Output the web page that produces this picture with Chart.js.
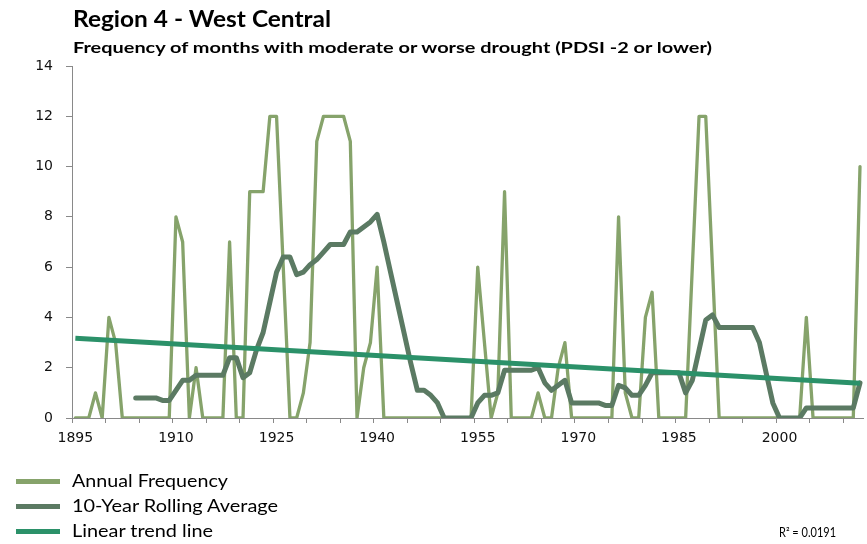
<!DOCTYPE html>
<html>
<head>
<meta charset="utf-8">
<script src="https://cdn.jsdelivr.net/npm/chart.js@4.4.1/dist/chart.umd.min.js"></script>
<style>
  html, body { margin: 0; padding: 0; background: #fff; }
  #wrap { position: relative; width: 867px; height: 544px; overflow: hidden; }
  #c { position: absolute; left: 0; top: 0; }
  .t { position: absolute; white-space: nowrap; font-family: Lato, "Open Sans", sans-serif; color: #000; transform-origin: 0 50%; }
  .title { font-weight: bold; font-size: 22px; line-height: 24px; }
  .sub { font-weight: bold; font-size: 16px; line-height: 20px; }
  .leg { font-size: 17px; line-height: 20px; }
  .sw { position: absolute; height: 5px; }
</style>
</head>
<body>
<div id="wrap">
  <canvas id="c" width="867" height="544"></canvas>
  <div class="t title" data-w="258" style="left:73px; top:7px;">Region 4 - West Central</div>
  <div class="t sub" data-w="639" style="left:73px; top:37px;">Frequency of months with moderate or worse drought (PDSI -2 or lower)</div>
  <div class="sw" style="left:16px; width:44px; top:479px; background:#86A36B;"></div>
  <div class="sw" style="left:16px; width:44px; top:504px; background:#5B7A63;"></div>
  <div class="sw" style="left:16px; width:44px; top:529px; background:#2B9169;"></div>
  <div class="t leg" data-w="156" style="left:72px; top:471px;">Annual Frequency</div>
  <div class="t leg" data-w="206" style="left:72px; top:496px;">10-Year Rolling Average</div>
  <div class="t leg" data-w="141" style="left:72px; top:521px;">Linear trend line</div>
  <div class="t leg" data-w="57" style="left:779px; top:522px; font-size:13px;">R² = 0.0191</div>
</div>
<script>
// ---- Data ----
const firstYear = 1895;
const lastYear = 2012;
const years = [];
for (let y = firstYear; y <= lastYear; y++) years.push(String(y));

// Annual frequency of months with PDSI <= -2, 1895..2012
const annualFrequency = [
  0, 0, 0, 1, 0, 4, 3, 0, 0, 0,      // 1895-1904
  0, 0, 0, 0, 0, 8, 7, 0, 2, 0,      // 1905-1914
  0, 0, 0, 7, 0, 0, 9, 9, 9, 12,     // 1915-1924
  12, 6, 0, 0, 1, 3, 11, 12, 12, 12, // 1925-1934
  12, 11, 0, 2, 3, 6, 0, 0, 0, 0,    // 1935-1944
  0, 0, 0, 0, 0, 0, 0, 0, 0, 0,      // 1945-1954
  6, 3, 0, 1, 9, 0, 0, 0, 0, 1,      // 1955-1964
  0, 0, 2, 3, 0, 0, 0, 0, 0, 0,      // 1965-1974
  0, 8, 1, 0, 0, 4, 5, 0, 0, 0,      // 1975-1984
  0, 0, 6, 12, 12, 6, 0, 0, 0, 0,    // 1985-1994
  0, 0, 0, 0, 0, 0, 0, 0, 0, 4,      // 1995-2004
  0, 0, 0, 0, 0, 0, 0, 10            // 2005-2012
];

// 10-year rolling average, 1895..2012 (starts 1904)
const rollingAverage = [
  null, null, null, null, null, null, null, null, null, 0.8,   // 1895-1904
  0.8, 0.8, 0.8, 0.7, 0.7, 1.1, 1.5, 1.5, 1.7, 1.7,            // 1905-1914
  1.7, 1.7, 1.7, 2.4, 2.4, 1.6, 1.8, 2.7, 3.4, 4.6,            // 1915-1924
  5.8, 6.4, 6.4, 5.7, 5.8, 6.1, 6.3, 6.6, 6.9, 6.9,            // 1925-1934
  6.9, 7.4, 7.4, 7.6, 7.8, 8.1, 7.0, 5.8, 4.6, 3.4,            // 1935-1944
  2.2, 1.1, 1.1, 0.9, 0.6, 0, 0, 0, 0, 0,                      // 1945-1954
  0.6, 0.9, 0.9, 1.0, 1.9, 1.9, 1.9, 1.9, 1.9, 2.0,            // 1955-1964
  1.4, 1.1, 1.3, 1.5, 0.6, 0.6, 0.6, 0.6, 0.6, 0.5,            // 1965-1974
  0.5, 1.3, 1.2, 0.9, 0.9, 1.3, 1.8, 1.8, 1.8, 1.8,            // 1975-1984
  1.8, 1.0, 1.5, 2.7, 3.9, 4.1, 3.6, 3.6, 3.6, 3.6,            // 1985-1994
  3.6, 3.6, 3.0, 1.8, 0.6, 0, 0, 0, 0, 0.4,                    // 1995-2004
  0.4, 0.4, 0.4, 0.4, 0.4, 0.4, 0.4, 1.4                       // 2005-2012
];

// Linear trend line end values
const trendStart = 3.17;
const trendEnd = 1.38;

// Tick labels
const xTickLabels = ['1895', '1910', '1925', '1940', '1955', '1970', '1985', '2000'];
const yTickValues = [0, 2, 4, 6, 8, 10, 12, 14];

// ---- Build ----
const trendData = years.map((y, i) => i === 0 ? trendStart : (i === years.length - 1 ? trendEnd : null));

const axisGray = '#898989';
const tickFont = { family: 'DejaVu Sans', size: 14 };

new Chart(document.getElementById('c'), {
  type: 'line',
  data: {
    labels: years,
    datasets: [
      {
        label: 'Linear trend line',
        data: trendData,
        borderColor: '#2B9169',
        borderWidth: 5,
        spanGaps: true,
        pointRadius: 0,
        borderCapStyle: 'butt',
        order: 0
      },
      {
        label: '10-Year Rolling Average',
        data: rollingAverage,
        borderColor: '#5B7A63',
        borderWidth: 5,
        pointRadius: 0,
        borderJoinStyle: 'round',
        borderCapStyle: 'round',
        order: 1
      },
      {
        label: 'Annual Frequency',
        data: annualFrequency,
        borderColor: '#86A36B',
        borderWidth: 3.3,
        pointRadius: 0,
        borderJoinStyle: 'round',
        borderCapStyle: 'round',
        order: 2
      }
    ]
  },
  options: {
    responsive: false,
    animation: false,
    devicePixelRatio: 1,
    layout: { padding: { top: 66, left: 0, right: 1, bottom: 96 } },
    plugins: { legend: { display: false }, tooltip: { enabled: false }, title: { display: false } },
    elements: { line: { tension: 0 } },
    scales: {
      x: {
        type: 'category',
        offset: true,
        afterFit: s => { s.height = 30; },
        border: { display: true, color: axisGray, width: 1 },
        grid: {
          offset: true,
          drawOnChartArea: false,
          drawTicks: true,
          tickLength: 5,
          color: ctx => (ctx.index % 5 === 0 ? axisGray : 'rgba(0,0,0,0)')
        },
        ticks: {
          autoSkip: false,
          maxRotation: 0,
          minRotation: 0,
          padding: 7,
          color: '#111',
          font: tickFont,
          callback: function (val, idx) {
            const lab = years[idx];
            return xTickLabels.includes(lab) ? lab : '';
          }
        }
      },
      y: {
        min: 0,
        max: 14,
        afterFit: s => { s.width = 72; },
        afterBuildTicks: s => { s.ticks = yTickValues.map(v => ({ value: v })); },
        border: { display: true, color: axisGray, width: 1 },
        grid: { drawOnChartArea: false, drawTicks: true, tickLength: 6, color: axisGray },
        ticks: { padding: 13, color: '#111', font: tickFont, callback: v => String(v) }
      }
    }
  }
});

// Fit the HTML texts to the reference widths
document.querySelectorAll('[data-w]').forEach(el => {
  const w = el.getBoundingClientRect().width;
  const target = parseFloat(el.getAttribute('data-w'));
  if (w > 0) el.style.transform = 'scaleX(' + (target / w) + ')';
});
</script>
</body>
</html>
